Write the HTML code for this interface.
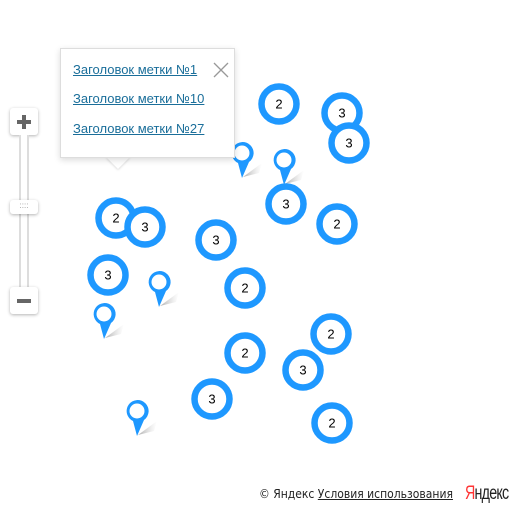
<!DOCTYPE html>
<html><head><meta charset="utf-8"><style>
body{margin:0;width:512px;height:512px;background:#fff;overflow:hidden;font-family:"Liberation Sans",Arial,sans-serif;position:relative}
svg{position:absolute;left:0;top:0}
.balloon{position:absolute;left:60px;top:48px;width:175px;height:110px;background:#fff;border:1px solid #ddd;box-shadow:0 2px 6px rgba(0,0,0,.15);box-sizing:border-box}
.balloon a{position:absolute;left:12px;color:#1a6e9a;font-size:13px;text-decoration:underline}
.tail{position:absolute;left:106px;top:157px;width:0;height:0;border-left:12px solid transparent;border-right:12px solid transparent;border-top:12px solid #fff;filter:drop-shadow(0 1px 1px rgba(0,0,0,.15))}
.btn{position:absolute;left:10px;width:28px;height:27px;background:#fff;border-radius:3px;box-shadow:0 1px 3px rgba(0,0,0,.3)}
.footer{position:absolute;top:487px;left:259px;font-size:12px;color:#222;font-family:"DejaVu Sans",sans-serif;transform:scaleX(.9);transform-origin:left}
</style></head><body>
<svg width="512" height="512">
<defs><linearGradient id="sh" x1="0" y1="0" x2="1" y2="0"><stop offset="0" stop-color="#999" stop-opacity=".8"/><stop offset="1" stop-color="#ccc" stop-opacity="0"/></linearGradient></defs>
<g id="pins"></g><g id="clusters"></g>
</svg>
<div class="btn" style="top:108px"><div style="position:absolute;left:7px;top:12px;width:14px;height:4px;background:#666"></div><div style="position:absolute;left:12px;top:7px;width:4px;height:14px;background:#666"></div></div>
<div style="position:absolute;left:19px;top:135px;width:10px;height:153px;background:#fff;border-left:2px solid #ddd;border-right:2px solid #ddd;box-sizing:border-box"></div>
<div class="btn" style="top:200px;height:14px;font-size:8px;color:#999;text-align:center;line-height:12px">::::</div>
<div class="btn" style="top:287px"><div style="position:absolute;left:7px;top:12px;width:14px;height:4px;background:#666"></div></div>
<div class="tail"></div>
<div class="balloon">
<a style="top:13px">Заголовок метки №1</a>
<a style="top:42px">Заголовок метки №10</a>
<a style="top:72px">Заголовок метки №27</a>
<svg style="left:152px;top:13px" width="16" height="16"><path d="M1 1L15 15M15 1L1 15" stroke="#999" stroke-width="1.3"/></svg>
</div>
<div class="footer">© Яндекс <span style="text-decoration:underline">Условия использования</span></div>
<div style="position:absolute;left:465px;top:483px;font-size:19px;letter-spacing:-1px;transform:scaleX(.75);transform-origin:left;color:#222"><span style="color:#f33">Я</span>ндекс</div>
<script>
const clusterX=[279,342,349,286,337,116,145,216,108,245,331,245,303,212,332];
const clusterY=[104,113,143,204,224,218,227,240,275,288,334,353,370,399,423];
const clusterCounts=[2,3,3,3,2,2,3,3,3,2,2,2,3,3,2];
const pinX=[242,284,159,104,137];
const pinY=[153,160,282,314,411];
const NS='http://www.w3.org/2000/svg';
const cg=document.getElementById('clusters'),pg=document.getElementById('pins');
pinX.forEach((x,i)=>{const y=pinY[i];
 const s=document.createElementNS(NS,'path');
 s.setAttribute('d',`M${x+1} ${y+24} L${x+20} ${y+10} L${x+17} ${y+20} Z`);
 s.setAttribute('fill','url(#sh)');
 
 
 pg.appendChild(s);
 const p=document.createElementNS(NS,'path');
 p.setAttribute('d',`M${x} ${y+25} L${x-4} ${y+10} A11 11 0 1 1 ${x+7} ${y+9} Z`);
 p.setAttribute('fill','#1e98ff');
 
 
 pg.appendChild(p);
 const c=document.createElementNS(NS,'circle');
 c.setAttribute('cx',x);c.setAttribute('cy',y);c.setAttribute('r',7.5);c.setAttribute('fill','#fff');
 
 
 pg.appendChild(c);
});
clusterX.forEach((x,i)=>{const y=clusterY[i];
 const c=document.createElementNS(NS,'circle');
 c.setAttribute('cx',x);c.setAttribute('cy',y);c.setAttribute('r',17.5);
 c.setAttribute('fill','#fff');c.setAttribute('stroke','#1e98ff');c.setAttribute('stroke-width',6.5);
 
 
 cg.appendChild(c);
 const t=document.createElementNS(NS,'text');
 t.setAttribute('x',x);t.setAttribute('y',y+4.5);t.setAttribute('text-anchor','middle');
 t.setAttribute('font-size','13');t.setAttribute('font-family','Liberation Sans, sans-serif');
 t.textContent=clusterCounts[i];
 
 
 cg.appendChild(t);
});
</script>
</body></html>
